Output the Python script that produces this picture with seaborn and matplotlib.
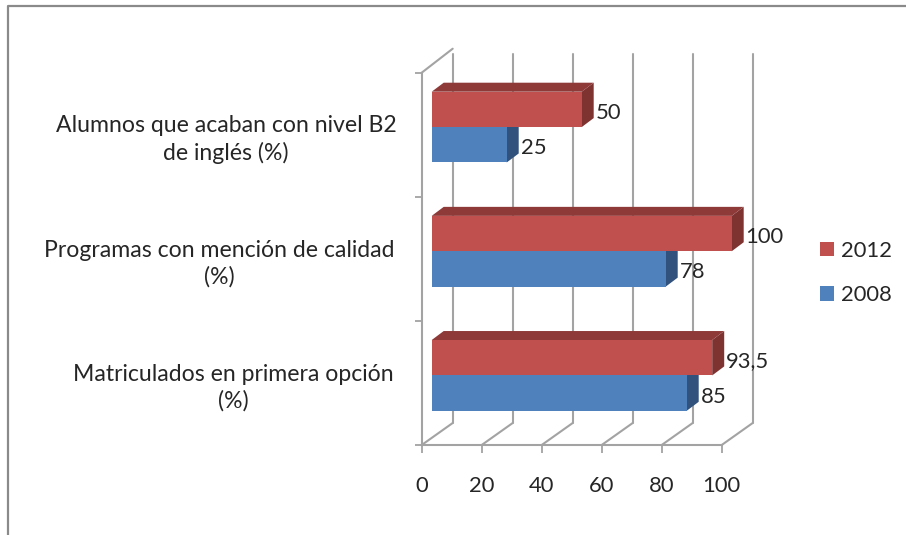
import matplotlib
matplotlib.use("Agg")
import matplotlib.pyplot as plt
import matplotlib.transforms as mtransforms
from matplotlib.lines import Line2D
from matplotlib.patches import Patch, Polygon
import pandas as pd
import seaborn as sns

categories = [
    "Alumnos que acaban con nivel B2\nde inglés (%)",
    "Programas con mención de calidad\n(%)",
    "Matriculados en primera opción\n(%)",
]
values_2012 = [50, 100, 93.5]
values_2008 = [25, 78, 85]
years = ["2012", "2008"]
x_ticks = [0, 20, 40, 60, 80, 100]

W, H = 906, 535
RED, RED_TOP, RED_SIDE = "#C0504D", "#8E3A38", "#7F3331"
BLUE, BLUE_SIDE = "#4F81BD", "#31527C"
GRID = "#A3A3A3"
TEXT = "#262626"
FS = 15.8
FS_CAT = 16.6

sns.set_theme(style="white")
plt.rcParams["font.family"] = ["Lato", "DejaVu Sans"]

df = pd.DataFrame(
    {
        "categoria": categories * 2,
        "valor": values_2012 + values_2008,
        "anio": [years[0]] * 3 + [years[1]] * 3,
    }
)


def px_axes(fig, left, top, right, bottom):
    return fig.add_axes([left / W, 1 - bottom / H, (right - left) / W, (bottom - top) / H])


fig = plt.figure(figsize=(W / 100, H / 100), dpi=100)
fig.patch.set_facecolor("white")

# marco exterior
fig.add_artist(Line2D([8 / W, 8 / W, 1], [0, 1 - 6 / H, 1 - 6 / H], color="#8A8A8A", lw=1.6))

# paredes y suelo del falso 3D
ax_wall = px_axes(fig, 421.7, 72.7, 721.7, 445)
ax_wall.set_xlim(0, 100)
ax_wall.set_ylim(3, 0)
ax_wall.patch.set_alpha(0)
for side in ["top", "right"]:
    ax_wall.spines[side].set_visible(False)
for side in ["left", "bottom"]:
    ax_wall.spines[side].set_color(GRID)
    ax_wall.spines[side].set_linewidth(1.5)
ax_wall.set_xticks(x_ticks)
ax_wall.set_xticklabels([str(t) for t in x_ticks])
ax_wall.set_yticks([0, 1, 2, 3])
ax_wall.set_yticklabels([])
ax_wall.set_yticks([0.5, 1.5, 2.5], minor=True)
ax_wall.set_yticklabels(categories, minor=True, ha="center", multialignment="center", linespacing=1.3)
ax_wall.tick_params(axis="x", which="major", bottom=True, length=5.5, width=1.3, color=GRID,
                    labelsize=FS, labelcolor=TEXT, pad=17)
ax_wall.tick_params(axis="y", which="major", left=True, length=5, width=1.3, color=GRID)
ax_wall.tick_params(axis="y", which="minor", left=False, labelsize=FS_CAT, labelcolor=TEXT, pad=0)
for lab, xpos in zip(ax_wall.get_yticklabels(minor=True), [226, 219, 233.5]):
    lab.set_transform(mtransforms.blended_transform_factory(fig.dpi_scale_trans, ax_wall.transData))
    lab.set_x(xpos / 100)

back = mtransforms.offset_copy(ax_wall.transData, fig=fig, x=31, y=22, units="dots")
for t in x_ticks:
    ax_wall.plot([t, t], [3, 0.03], transform=back, color=GRID, lw=1.5, clip_on=False, zorder=1)
    x0, y0 = ax_wall.transData.transform((t, 3))
    ax_wall.plot([x0, x0 + 31], [y0, y0 + 22], transform=None, color=GRID, lw=1.5, clip_on=False, zorder=1)
x0, y0 = ax_wall.transData.transform((0, 0))
ax_wall.plot([x0, x0 + 31], [y0, y0 + 24], transform=None, color=GRID, lw=1.5, clip_on=False, zorder=1)

# barras: el eje va desplazado respecto a la pared
ax = px_axes(fig, 431.7, 65, 731.7, 437.5)
sns.barplot(
    data=df,
    y="categoria",
    x="valor",
    hue="anio",
    order=categories,
    hue_order=years,
    palette={years[0]: RED, years[1]: BLUE},
    saturation=1,
    width=0.57,
    orient="h",
    legend=False,
    linewidth=0,
    ax=ax,
)
ax.set_xlim(0, 100)
ax.set_ylim(2.5, -0.5)
ax.axis("off")

dx = 12 / 3
dy = 9 / (372.5 / 3)
for container, side_color, zf, zs in [
    (ax.containers[1], BLUE_SIDE, 3, 2),
    (ax.containers[0], RED_SIDE, 5, 4),
]:
    for bar in container:
        x1 = bar.get_width()
        y_top, y_bot = bar.get_y(), bar.get_y() + bar.get_height()
        bar.set_zorder(zf)
        ax.add_patch(Polygon([(x1, y_bot), (x1 + dx, y_bot - dy), (x1 + dx, y_top - dy), (x1, y_top)],
                             color=side_color, lw=0, zorder=zs, clip_on=False))
        if container is ax.containers[0]:
            ax.add_patch(Polygon([(0, y_top), (dx, y_top - dy), (x1 + dx, y_top - dy), (x1, y_top)],
                                 color=RED_TOP, lw=0, zorder=zs, clip_on=False))
        label = f"{x1:g}".replace(".", ",")
        ax.annotate(label, (x1, (y_top + y_bot) / 2), xytext=(10, -2.5), textcoords="offset points",
                    ha="left", va="center", fontsize=FS, color=TEXT, zorder=7, annotation_clip=False)

handles = [Patch(facecolor=RED, edgecolor="none", label=years[0]),
           Patch(facecolor=BLUE, edgecolor="none", label=years[1])]
fig.legend(
    handles=handles,
    loc="center left",
    bbox_to_anchor=(820 / W, 1 - 273 / H),
    frameon=False,
    fontsize=FS,
    labelcolor=TEXT,
    handlelength=0.66,
    handleheight=0.66,
    handletextpad=0.3,
    labelspacing=1.12,
    borderpad=0,
    borderaxespad=0,
)

fig.savefig("out.png", dpi=100)
